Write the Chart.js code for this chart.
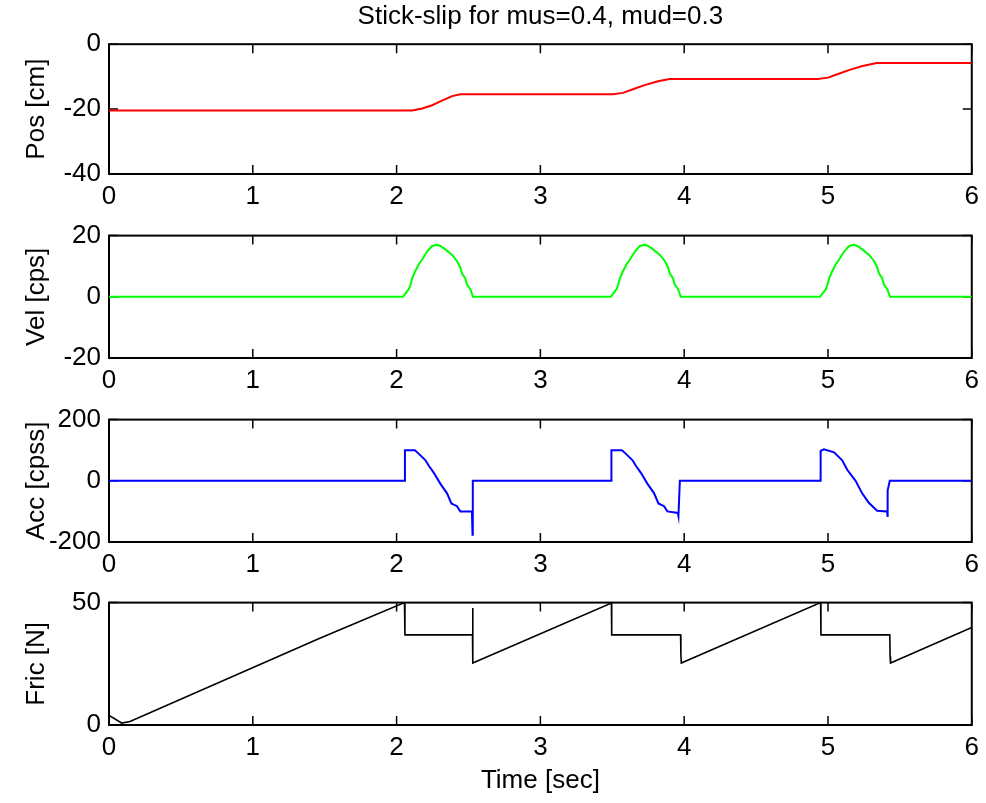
<!DOCTYPE html>
<html>
<head>
<meta charset="utf-8">
<script src="https://cdn.jsdelivr.net/npm/chart.js@4.4.1/dist/chart.umd.min.js"></script>
<style>
    body { margin: 0; background: #fff; }
    #wrap { position: relative; width: 986px; height: 803px; overflow: hidden; }
    #wrap canvas { position: absolute; left: 0; }
</style>
</head>
<body>
<div id="wrap">
    <canvas id="pos-chart" width="986" height="214" style="top:0px"></canvas>
    <canvas id="vel-chart" width="986" height="186" style="top:212px"></canvas>
    <canvas id="acc-chart" width="986" height="186" style="top:396px"></canvas>
    <canvas id="fric-chart" width="986" height="224" style="top:579px"></canvas>
</div>
<script>
// time ticks shared by all four panels
const timeTicks = [0, 1, 2, 3, 4, 5, 6];

// position [cm]
const posTime = [0, 2.108, 2.178, 2.247, 2.316, 2.386, 2.444, 3.506, 3.575, 3.644, 3.725, 3.818, 3.899, 4.93, 5.0, 5.07, 5.15, 5.24, 5.34, 6];
const posValue = [-20.4, -20.4, -19.8, -18.8, -17.4, -16.0, -15.4, -15.4, -15.0, -13.9, -12.6, -11.4, -10.7, -10.7, -10.3, -9.2, -7.9, -6.7, -5.8, -5.8];

// velocity [cps]
const velTime = [0,
    2.044, 2.085, 2.097, 2.108, 2.127, 2.155, 2.178, 2.212, 2.247, 2.281, 2.304, 2.339, 2.386, 2.420, 2.443, 2.455, 2.478, 2.489, 2.513, 2.531,
    3.489, 3.530, 3.542, 3.553, 3.572, 3.600, 3.623, 3.657, 3.692, 3.726, 3.749, 3.784, 3.831, 3.865, 3.888, 3.900, 3.923, 3.934, 3.958, 3.976,
    4.944, 4.985, 4.997, 5.008, 5.027, 5.055, 5.078, 5.112, 5.147, 5.181, 5.204, 5.239, 5.286, 5.320, 5.343, 5.355, 5.378, 5.389, 5.413, 5.431,
    6];
const velValue = [0,
    0, 2.5, 4.0, 6.0, 8.1, 10.7, 12.2, 14.8, 16.6, 17.0, 16.6, 15.5, 13.7, 11.7, 9.6, 7.6, 6.0, 4.0, 2.5, 0,
    0, 2.5, 4.0, 6.0, 8.1, 10.7, 12.2, 14.8, 16.6, 17.0, 16.6, 15.5, 13.7, 11.7, 9.6, 7.6, 6.0, 4.0, 2.5, 0,
    0, 2.5, 4.0, 6.0, 8.1, 10.7, 12.2, 14.8, 16.6, 17.0, 16.6, 15.5, 13.7, 11.7, 9.6, 7.6, 6.0, 4.0, 2.5, 0,
    0];

// acceleration [cpss]
const accTime = [0, 2.058, 2.058, 2.127, 2.155, 2.201, 2.224, 2.259, 2.305, 2.351, 2.381, 2.420, 2.443, 2.524, 2.528, 2.530,
    3.494, 3.494, 3.567, 3.595, 3.641, 3.664, 3.699, 3.745, 3.791, 3.821, 3.860, 3.883, 3.956, 3.960, 3.970,
    4.949, 4.949, 4.972, 5.042, 5.099, 5.134, 5.192, 5.238, 5.284, 5.342, 5.411, 5.413, 5.417, 5.430, 6];
const accValue = [0, 0, 100, 100, 88, 67, 49, 26, -10, -41, -74, -83, -100, -100, -176, 0,
    0, 100, 100, 88, 67, 49, 26, -10, -41, -74, -83, -100, -105, -115, 0,
    0, 98, 103, 93, 67, 36, 0, -41, -72, -98, -100, -118, -31, 0, 0];

// friction [N]
const fricTime = [0, 0.088, 0.146, 1.462, 2.055, 2.058, 2.528, 2.529, 2.531, 3.494, 3.496, 3.975, 3.977, 3.980, 4.949, 4.951, 5.430, 5.432, 5.435, 6];
const fricValue = [3.95, 0.8, 1.4, 35.3, 50, 36.8, 36.8, 47.8, 25.3, 49.8, 36.8, 36.8, 29, 25.3, 50, 36.8, 36.8, 28, 25.3, 39.8];

Chart.defaults.font.family = '"Liberation Sans", Arial, sans-serif';
Chart.defaults.font.size = 26;
Chart.defaults.color = '#000';

// matlab style box with inward ticks, drawn under the data line
const framePlugin = {
    id: 'frame',
    beforeDatasetsDraw(chart) {
        const { ctx, chartArea: a, scales: { x, y } } = chart;
        const len = 9;
        ctx.save();
        ctx.strokeStyle = '#000';
        ctx.lineWidth = 1.5;
        ctx.beginPath();
        x.ticks.forEach(t => {
            const px = x.getPixelForValue(t.value);
            ctx.moveTo(px, a.bottom); ctx.lineTo(px, a.bottom - len);
            ctx.moveTo(px, a.top); ctx.lineTo(px, a.top + len);
        });
        y.ticks.forEach(t => {
            const py = y.getPixelForValue(t.value);
            ctx.moveTo(a.left, py); ctx.lineTo(a.left + len, py);
            ctx.moveTo(a.right, py); ctx.lineTo(a.right - len, py);
        });
        ctx.stroke();
        ctx.lineWidth = 2;
        ctx.strokeRect(a.left, a.top, a.right - a.left, a.bottom - a.top);
        ctx.restore();
    }
};

function makePanel(id, times, values, color, label, yMin, yMax, step, opts) {
    const points = times.map((t, i) => ({ x: t, y: values[i] }));
    return new Chart(document.getElementById(id), {
        type: 'line',
        data: {
            datasets: [{
                data: points,
                borderColor: color,
                borderWidth: opts.lineWidth || 2,
                pointRadius: 0,
                tension: 0,
                fill: false
            }]
        },
        options: {
            responsive: false,
            animation: false,
            layout: { padding: { top: opts.padTop, right: 11, left: 0, bottom: 0 } },
            plugins: {
                legend: { display: false },
                tooltip: { enabled: false },
                title: opts.title ? {
                    display: true,
                    fullSize: false, // centre over the plot box, not the canvas
                    text: opts.title,
                    font: { size: 26, weight: 'normal' },
                    color: '#000',
                    padding: { top: 1, bottom: 12 }
                } : { display: false }
            },
            scales: {
                x: {
                    type: 'linear',
                    min: 0,
                    max: 6,
                    grid: { display: false, drawTicks: false },
                    border: { display: false },
                    afterBuildTicks: scale => { scale.ticks = timeTicks.map(v => ({ value: v })); },
                    afterFit: scale => { scale.height = opts.xHeight; },
                    ticks: { padding: 7, maxRotation: 0, autoSkip: false },
                    title: opts.xTitle ? {
                        display: true,
                        text: opts.xTitle,
                        padding: { top: 0, bottom: 7 }
                    } : { display: false }
                },
                y: {
                    min: yMin,
                    max: yMax,
                    grid: { display: false, drawTicks: false },
                    border: { display: false },
                    ticks: { stepSize: step, padding: 8 },
                    afterFit: scale => { scale.width = 109; },
                    title: {
                        display: true,
                        text: label,
                        padding: { top: 21, bottom: 0 }
                    }
                }
            }
        },
        plugins: [framePlugin]
    });
}

makePanel('pos-chart', posTime, posValue, '#ff0000', 'Pos [cm]', -40, 0, 20,
    { padTop: 0, xHeight: 40, title: 'Stick-slip for mus=0.4, mud=0.3' });
makePanel('vel-chart', velTime, velValue, '#00ff00', 'Vel [cps]', -20, 20, 20,
    { padTop: 16, xHeight: 40 });
makePanel('acc-chart', accTime, accValue, '#0000ff', 'Acc [cpss]', -200, 200, 200,
    { padTop: 16, xHeight: 40 });
makePanel('fric-chart', fricTime, fricValue, '#000000', 'Fric [N]', 0, 50, 50,
    { padTop: 16, xHeight: 78, xTitle: 'Time [sec]', lineWidth: 1.6 });
</script>
</body>
</html>
